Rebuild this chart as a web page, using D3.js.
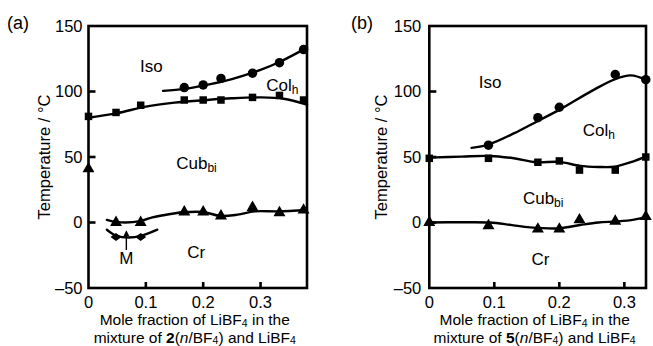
<!DOCTYPE html>
<html>
<head>
<meta charset="utf-8">
<script src="https://cdn.jsdelivr.net/npm/d3@7"></script>
<style>
  html, body { margin: 0; padding: 0; background: #fff; }
  svg { display: block; font-family: "Liberation Sans", Arial, Helvetica, sans-serif; }
</style>
</head>
<body>
<svg id="chart" width="653" height="346"></svg>
<script>
// Shared axis ticks
const xTicks = [0, 0.1, 0.2, 0.3];
const yTicks = [150, 100, 50, 0, -50];
const yTickLabels = ["150", "100", "50", "0", "\u201350"];

// Panel (a): mixture of 2(n/BF4) and LiBF4 — measured transition temperatures (°C)
const aCircles   = [[0.167, 103], [0.2, 105], [0.231, 110], [0.286, 114], [0.333, 122], [0.375, 132]];
const aSquares   = [[0, 81], [0.048, 84], [0.091, 89.5], [0.167, 93.5], [0.2, 93.5], [0.231, 93.5], [0.286, 95.5], [0.333, 97], [0.375, 93.5]];
const aTriangles = [[0, 41], [0.048, 0], [0.091, 0], [0.167, 8], [0.2, 8], [0.231, 5], [0.286, 11.5], [0.333, 7.5], [0.375, 9.5]];
const aDiamonds  = [[0.048, -11], [0.091, -11]];
// Panel (a): phase boundary guide curves
const aIsoCurve  = [[0.13, 100.5], [0.167, 102], [0.2, 104.5], [0.25, 109.5], [0.3, 116.5], [0.333, 122.5], [0.381, 133.5]];
const aColCurve  = [[0, 80], [0.05, 83.5], [0.1, 88.5], [0.15, 91.5], [0.2, 93.3], [0.25, 94.8], [0.3, 95.5], [0.34, 94.5], [0.381, 90]];
const aCubCurve  = [[0.032, 2], [0.05, 0.3], [0.09, 1], [0.107, 3.4], [0.13, 5.5], [0.165, 7.8], [0.2, 8], [0.23, 5], [0.26, 6], [0.29, 8.5], [0.33, 8.5], [0.381, 9.5]];
const aMCurve    = [[0.032, -5.5], [0.048, -10], [0.07, -11.5], [0.093, -10], [0.12, -5.5]];

// Panel (b): mixture of 5(n/BF4) and LiBF4 — measured transition temperatures (°C)
const bCircles   = [[0.091, 59], [0.167, 80], [0.2, 88], [0.286, 113], [0.333, 109]];
const bSquares   = [[0, 49], [0.091, 49], [0.167, 46], [0.2, 47], [0.231, 40], [0.286, 40], [0.333, 50]];
const bTriangles = [[0, 0], [0.091, -2.5], [0.167, -5], [0.2, -5], [0.231, 2], [0.286, 1], [0.333, 4.5]];
// Panel (b): phase boundary guide curves
const bIsoCurve  = [[0.065, 57], [0.091, 59.5], [0.13, 68], [0.167, 77.5], [0.2, 86], [0.25, 100.5], [0.286, 109.5], [0.31, 112.3], [0.333, 109]];
const bColCurve  = [[0, 49.5], [0.05, 50.3], [0.093, 50.8], [0.13, 49], [0.165, 46], [0.2, 46.3], [0.232, 43.2], [0.26, 42.4], [0.285, 42.6], [0.313, 46.5], [0.333, 50.2]];
const bCubCurve  = [[0, 0], [0.05, 0.2], [0.093, 0], [0.125, -1.8], [0.155, -3.7], [0.2, -4.4], [0.232, -1.9], [0.26, 0], [0.289, 0.8], [0.315, 2.2], [0.333, 4.3]];

const svg = d3.select("#chart");
const TICK_FONT = 16.5;
const TITLE_FONT = 16.5;
const XTITLE_FONT = 15.5;
const LABEL_FONT = 17;

// Flat diamond marker (wider than tall)
const diamondPath = "M-5.5,0L0,-4L5.5,0L0,4Z";

function drawPanel(cfg) {
  const g = svg.append("g");
  const x = d3.scaleLinear().domain(cfg.xDomain).range([cfg.left, cfg.right]);
  const y = d3.scaleLinear().domain([-50, 150]).range([288, 26]);

  const line = d3.line().x(d => x(d[0])).y(d => y(d[1])).curve(d3.curveCatmullRom.alpha(0.5));

  // Frame
  g.append("rect")
    .attr("x", cfg.left).attr("y", y(150))
    .attr("width", cfg.right - cfg.left).attr("height", y(-50) - y(150))
    .attr("fill", "none").attr("stroke", "#000").attr("stroke-width", 2.6);

  // Inward ticks
  g.selectAll(".yt").data(yTicks.filter(v => v > -50 && v < 150)).join("line")
    .attr("x1", cfg.left).attr("x2", cfg.left + 7)
    .attr("y1", d => y(d)).attr("y2", d => y(d))
    .attr("stroke", "#000").attr("stroke-width", 2.6);
  g.selectAll(".xt").data(xTicks.filter(v => v > 0)).join("line")
    .attr("x1", d => x(d)).attr("x2", d => x(d))
    .attr("y1", y(-50)).attr("y2", y(-50) - 6)
    .attr("stroke", "#000").attr("stroke-width", 2.6);

  // Tick labels
  g.selectAll(".yl").data(yTicks).join("text")
    .attr("x", cfg.left - cfg.yLabelGap).attr("y", d => y(d))
    .attr("dy", "0.36em").attr("text-anchor", "end")
    .attr("font-size", TICK_FONT)
    .text((d, i) => yTickLabels[i]);
  g.selectAll(".xl").data(xTicks).join("text")
    .attr("x", d => x(d)).attr("y", 307.5)
    .attr("text-anchor", "middle").attr("font-size", TICK_FONT)
    .text(d => d === 0 ? "0" : d3.format(".1f")(d));

  // Axis titles
  const cx = (cfg.left + cfg.right) / 2 - 3;
  const t1 = g.append("text").attr("x", cx).attr("y", 325).attr("text-anchor", "middle").attr("font-size", XTITLE_FONT);
  t1.append("tspan").text("Mole fraction of LiBF");
  t1.append("tspan").attr("font-size", 10.5).attr("dy", 2).text("4");
  t1.append("tspan").attr("dy", -2).text(" in the");
  const t2 = g.append("text").attr("x", cx).attr("y", 342.5).attr("text-anchor", "middle").attr("font-size", XTITLE_FONT);
  t2.append("tspan").text("mixture of ");
  t2.append("tspan").attr("font-weight", "bold").text(cfg.compound);
  t2.append("tspan").text("(");
  t2.append("tspan").attr("font-style", "italic").text("n");
  t2.append("tspan").text("/BF");
  t2.append("tspan").attr("font-size", 10.5).attr("dy", 1.5).text("4");
  t2.append("tspan").attr("dy", -1.5).text(") and LiBF");
  t2.append("tspan").attr("font-size", 10.5).attr("dy", 1.5).text("4");

  g.append("text")
    .attr("transform", `translate(${cfg.left - cfg.yTitleGap},157) rotate(-90)`)
    .attr("dy", "0.36em").attr("text-anchor", "middle").attr("font-size", TITLE_FONT)
    .text("Temperature / \u00b0C");

  g.append("text").attr("x", cfg.tagX).attr("y", 29).attr("font-size", 18).text(cfg.tag);

  // Guide curves
  cfg.curves.forEach(c => {
    g.append("path").attr("d", line(c)).attr("fill", "none")
      .attr("stroke", "#000").attr("stroke-width", 2.4).attr("stroke-linecap", "round");
  });

  // Markers
  const sym = (type, size) => d3.symbol().type(type).size(size)();
  const markers = [
    [cfg.circles, sym(d3.symbolCircle, 70)],
    [cfg.squares, sym(d3.symbolSquare, 56)],
    [cfg.triangles, sym(d3.symbolTriangle, 62)],
    [cfg.diamonds || [], diamondPath]
  ];
  markers.forEach(([data, path]) => {
    g.selectAll(null).data(data).join("path")
      .attr("transform", d => `translate(${x(d[0])},${y(d[1])})`)
      .attr("d", path).attr("fill", "#000");
  });

  // Phase labels
  cfg.labels.forEach(l => {
    const t = g.append("text").attr("x", x(l.x)).attr("y", y(l.t))
      .attr("dy", "0.36em").attr("font-size", LABEL_FONT);
    t.append("tspan").text(l.main);
    if (l.sub) t.append("tspan").attr("font-size", 12).attr("dy", 3).text(l.sub);
  });

  return { g, x, y };
}

const pa = drawPanel({
  xDomain: [0, 0.381], left: 88.5, right: 307,
  yLabelGap: 6, yTitleGap: 44, tag: "(a)", tagX: 7, compound: "2",
  curves: [aIsoCurve, aColCurve, aCubCurve, aMCurve],
  circles: aCircles, squares: aSquares, triangles: aTriangles, diamonds: aDiamonds,
  labels: [
    { main: "Iso", x: 0.09, t: 119.7 },
    { main: "Col", sub: "h", x: 0.31, t: 105 },
    { main: "Cub", sub: "bi", x: 0.153, t: 45.4 },
    { main: "Cr", x: 0.172, t: -22.3 }
  ]
});

// Arrow marking the monotropic transition (M)
const mx = pa.x(0.066);
pa.g.append("line").attr("x1", mx).attr("x2", mx)
  .attr("y1", pa.y(-21)).attr("y2", pa.y(-8))
  .attr("stroke", "#000").attr("stroke-width", 1.4);
pa.g.append("path")
  .attr("d", `M${mx},${pa.y(-6)} L${mx - 3},${pa.y(-10.5)} L${mx + 3},${pa.y(-10.5)} Z`)
  .attr("fill", "#000");
pa.g.append("text").attr("x", mx).attr("y", pa.y(-27)).attr("dy", "0.36em")
  .attr("text-anchor", "middle").attr("font-size", LABEL_FONT).text("M");

drawPanel({
  xDomain: [0, 0.3333], left: 429.3, right: 646,
  yLabelGap: 8, yTitleGap: 48, tag: "(b)", tagX: 351, compound: "5",
  curves: [bIsoCurve, bColCurve, bCubCurve],
  circles: bCircles, squares: bSquares, triangles: bTriangles,
  labels: [
    { main: "Iso", x: 0.076, t: 107.5 },
    { main: "Col", sub: "h", x: 0.236, t: 70.6 },
    { main: "Cub", sub: "bi", x: 0.144, t: 18.7 },
    { main: "Cr", x: 0.157, t: -27.9 }
  ]
});
</script>
</body>
</html>
